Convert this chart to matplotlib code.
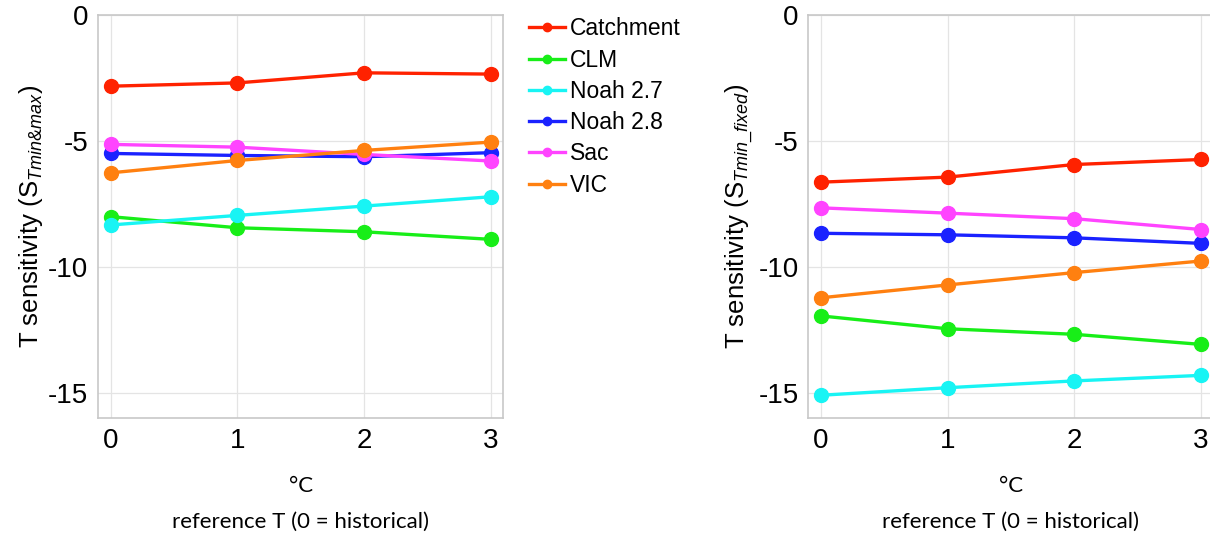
import matplotlib
matplotlib.use("Agg")
import matplotlib.pyplot as plt
import numpy as np

# reference temperature offsets (degC above historical)
ref_t = [0, 1, 2, 3]

models = ["Catchment", "CLM", "Noah 2.7", "Noah 2.8", "Sac", "VIC"]
colors = ["#ff2200", "#18ee18", "#18f4f4", "#1a22ff", "#ff44ff", "#ff8010"]

# sensitivity with Tmin and Tmax both shifted
s_minmax = {
    "Catchment": [-2.82, -2.69, -2.29, -2.34],
    "CLM": [-8.00, -8.44, -8.60, -8.90],
    "Noah 2.7": [-8.33, -7.95, -7.58, -7.21],
    "Noah 2.8": [-5.49, -5.57, -5.62, -5.46],
    "Sac": [-5.13, -5.24, -5.53, -5.79],
    "VIC": [-6.26, -5.77, -5.37, -5.04],
}

# sensitivity with Tmin held fixed
s_minfixed = {
    "Catchment": [-6.63, -6.43, -5.93, -5.73],
    "CLM": [-11.94, -12.45, -12.67, -13.07],
    "Noah 2.7": [-15.09, -14.79, -14.52, -14.30],
    "Noah 2.8": [-8.66, -8.72, -8.84, -9.06],
    "Sac": [-7.65, -7.86, -8.08, -8.51],
    "VIC": [-11.22, -10.71, -10.22, -9.76],
}

plt.rcParams["mathtext.fontset"] = "custom"
plt.rcParams["mathtext.rm"] = "Liberation Sans"
plt.rcParams["mathtext.it"] = "Liberation Sans:italic"
plt.rcParams["axes.unicode_minus"] = False

fig = plt.figure(figsize=(12.1, 5.41), dpi=100)
ax1 = fig.add_axes([0.081, 0.227, 0.335, 0.745])
ax2 = fig.add_axes([0.668, 0.227, 0.335, 0.745])

tick_font = "Liberation Sans"
label_font = "Lato"


def draw_panel(ax, data, sub):
    for name, c in zip(models, colors):
        ax.plot(ref_t, data[name], color=c, lw=2.4, marker="o", ms=10,
                label=name)
    ax.set_xlim(-0.1, 3.1)
    ax.set_ylim(-16, 0)
    ax.set_xticks(ref_t)
    ax.set_yticks([0, -5, -10, -15])
    ax.grid(True, color="#e4e4e4", lw=0.9)
    ax.set_axisbelow(True)
    for sp in ax.spines.values():
        sp.set_color("#c8c8c8")
        sp.set_linewidth(1.2)
    ax.tick_params(length=0, labelsize=20, pad=7)
    for lab in ax.get_xticklabels() + ax.get_yticklabels():
        lab.set_fontfamily(tick_font)
    ax.set_ylabel("T sensitivity (S$_{" + sub + "}$)",
                  fontsize=18.5, fontfamily=tick_font, labelpad=2)
    ax.set_xlabel("°C\nreference T (0 = historical)", fontsize=16,
                  fontfamily=label_font, linespacing=2.0, labelpad=16)


draw_panel(ax1, s_minmax, r"Tmin&max")
draw_panel(ax2, s_minfixed, r"Tmin\_fixed")

handles, labels = ax1.get_legend_handles_labels()
fig.legend(handles, labels, loc="upper left", bbox_to_anchor=(0.42, 1.006),
           frameon=False, prop={"family": tick_font, "size": 16.5},
           handlelength=1.6, handletextpad=0.2, labelspacing=0.36,
           markerscale=0.6)

fig.savefig("out.png", dpi=100)
